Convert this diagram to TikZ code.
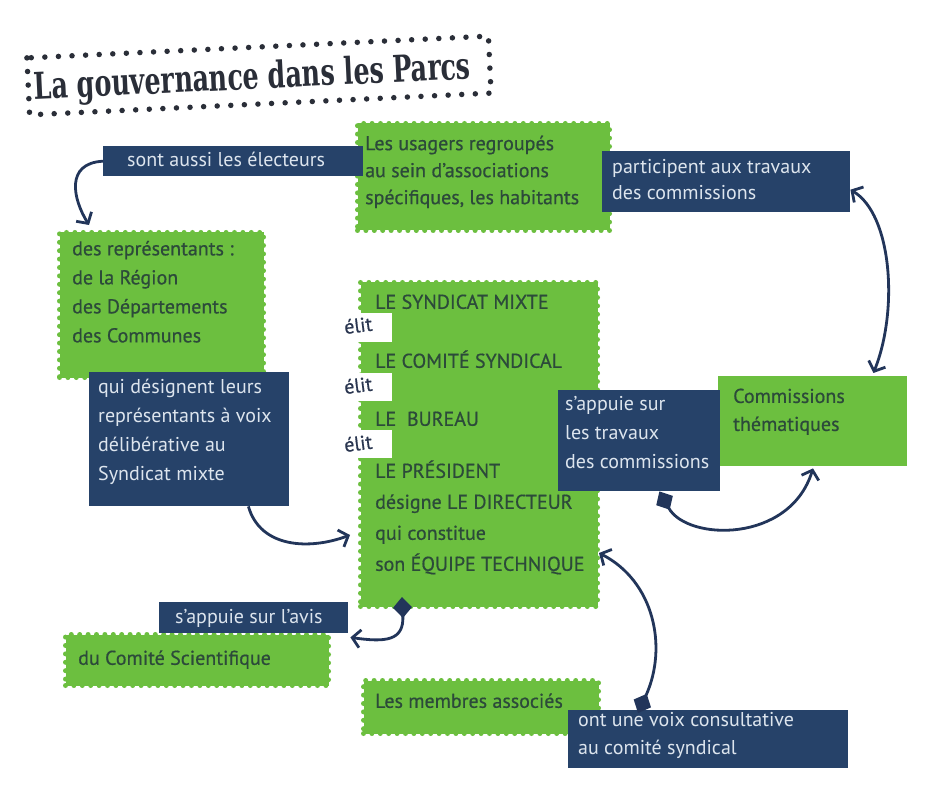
\documentclass[tikz,border=0pt]{standalone}
\usepackage{fontspec}
\setmainfont{PT Sans}
\newfontfamily\gfont{PT Sans}[FakeBold=0.6]
\newfontfamily\titlefont{DejaVu Serif}
\usetikzlibrary{arrows.meta,calc}
\definecolor{pgreen}{HTML}{6CBF3F}
\definecolor{pnavy}{HTML}{264269}
\definecolor{gtext}{HTML}{2C4A3A}
\definecolor{ntext}{HTML}{DDE5EE}
\definecolor{arrc}{HTML}{22355A}
\definecolor{ttext}{HTML}{2A2E38}
\definecolor{elitc}{HTML}{2A3650}
\begin{document}
\begin{tikzpicture}[x=1pt,y=-1pt,
  stamp/.style={fill=pgreen, draw=pgreen, line width=5pt, dash pattern=on 0pt off 8.4pt, line cap=round, inner sep=0pt, anchor=north west},
  plaingreen/.style={fill=pgreen, inner sep=0pt, anchor=north west},
  navybox/.style={fill=pnavy, inner sep=0pt, anchor=north west},
  notch/.style={fill=white, inner sep=0pt, anchor=north west},
  gtxt/.style={text=gtext, font=\gfont\fontsize{20}{29}\selectfont, align=left, inner sep=0pt, anchor=west, execute at begin node=\strut, execute at end node=\strut},
  ntxt/.style={text=ntext, font=\fontsize{20}{29}\selectfont, align=left, inner sep=0pt, anchor=west, execute at begin node=\strut, execute at end node=\strut},
  elit/.style={text=elitc, font=\gfont\fontsize{20}{22}\selectfont, inner sep=0pt, anchor=west, rotate=7},
  conn/.style={draw=arrc, line width=2.8pt},
  barb/.style={-{Straight Barb[length=8pt,width=18pt]}},
  dbarb/.style={{Straight Barb[length=8pt,width=18pt]}-{Straight Barb[length=8pt,width=18pt]}},
  dia/.style={{Diamond[length=21pt,width=19pt]}-{Straight Barb[length=8pt,width=18pt]}},
  titledots/.style={draw=ttext, line width=5.5pt, line cap=round, dash pattern=on 0pt off 13.6pt}
]
\useasboundingbox[fill=white] (0,0) rectangle (926,799);

% title
\begin{scope}[rotate around={2.7:(259,75.5)}]
  \draw[titledots] (28,47) rectangle (490,104);
\end{scope}
\node[rotate=2.7, text=ttext, inner sep=0pt, anchor=base] (title) at (253,89)
  {\resizebox{437pt}{\height}{\titlefont\bfseries\fontsize{37}{40}\selectfont La gouvernance dans les Parcs}};

% green stamps
\node[stamp, minimum width=252pt, minimum height=107pt] (usagers) at (355,121) {};
\node[stamp, minimum width=204pt, minimum height=145pt] (lg) at (57,230) {};
\node[stamp, minimum width=237pt, minimum height=324pt] (central) at (358,280) {};
\node[stamp, minimum width=263pt, minimum height=51pt] (comsci) at (63,632) {};
\node[stamp, minimum width=235pt, minimum height=53pt] (membres) at (361,678) {};
\node[plaingreen, minimum width=189pt, minimum height=90pt] (comm) at (718,376) {};

% notches
\node[notch, minimum width=42pt, minimum height=29pt] (n1) at (350,313) {};
\node[notch, minimum width=42pt, minimum height=28pt] (n2) at (350,373) {};
\node[notch, minimum width=42pt, minimum height=28pt] (n3) at (350,430) {};

% navy boxes
\node[navybox, minimum width=260pt, minimum height=30pt] (sont) at (103,146) {};
\node[navybox, minimum width=248pt, minimum height=61pt] (part) at (602,151) {};
\node[navybox, minimum width=200pt, minimum height=134pt] (navL) at (89,372) {};
\node[navybox, minimum width=162pt, minimum height=101pt] (appuie) at (558,390) {};
\node[navybox, minimum width=189pt, minimum height=31pt] (avis) at (159,602) {};
\node[navybox, minimum width=280pt, minimum height=58pt] (voix) at (568,710) {};

% texts on green
\node[gtxt, font=\gfont\fontsize{20}{27}\selectfont] (tusagers) at (365,174) {Les usagers regroupés\\au sein d’associations\\spécifiques, les habitants};
\node[gtxt] (tlg) at (72,296) {des représentants :\\de la Région\\des Départements\\des Communes};
\node[gtxt] (tcomsci) at (78,659) {du Comité Scientifique};
\node[gtxt] (tmembres) at (375,702) {Les membres associés};
\node[gtxt, font=\gfont\fontsize{20}{28}\selectfont] (tcomm) at (733,414) {Commissions\\thématiques};
\node[gtxt] (c1) at (375,303) {LE SYNDICAT MIXTE};
\node[gtxt] (c2) at (375,362) {LE COMITÉ SYNDICAL};
\node[gtxt] (c3) at (375,420) {LE\ \ BUREAU};
\node[gtxt] (c4) at (375,472) {LE PRÉSIDENT};
\node[gtxt] (c5) at (375,503) {désigne LE DIRECTEUR};
\node[gtxt] (c6) at (375,534) {qui constitue};
\node[gtxt] (c7) at (375,565) {son ÉQUIPE TECHNIQUE};

% elit
\node[elit] (e1) at (344,327) {élit};
\node[elit] (e2) at (344,387) {élit};
\node[elit] (e3) at (344,445) {élit};

% texts on navy
\node[ntxt] (tsont) at (127,161) {sont aussi les électeurs};
\node[ntxt, font=\fontsize{20}{26}\selectfont] (tpart) at (612,183) {participent aux travaux\\des commissions};
\node[ntxt] (tnavL) at (98,434) {qui désignent leurs\\représentants à voix\\délibérative au\\Syndicat mixte};
\node[ntxt] (tappuie) at (565,437) {s’appuie sur\\les travaux\\des commissions};
\node[ntxt] (tavis) at (175,618) {s’appuie sur l’avis};
\node[ntxt, font=\fontsize{20}{28}\selectfont] (tvoix) at (578,738) {ont une voix consultative\\au comité syndical};

% connectors
\draw[conn, barb] (sont.west) .. controls +(-38,2) and +(-16,-26) .. ($(lg.north west)+(32,-5)$);
\draw[conn, dbarb] ($(part.east)+(0,8)$) .. controls +(42,25) and +(25,-62) .. ($(comm.north east)+(-34,-3)$);
\draw[conn, barb] ($(navL.south east)+(-41,0)$) .. controls +(12,42) and +(-40,15) .. ($(central.north west)+(-8,255)$);
\draw[conn, dia] ($(appuie.south east)+(-61,0)$) .. controls +(28,50) and +(-23,75) .. ($(comm.south west)+(95,2)$);
\draw[conn, dia] ($(voix.north west)+(70,3)$) .. controls +(30,-66) and +(55,28) .. ($(central.south east)+(-1,-56)$);
\draw[conn, dia] ($(central.south west)+(44,-12)$) .. controls +(2,44) and +(35,5) .. ($(avis.south east)+(2,4)$);
\end{tikzpicture}
\end{document}
